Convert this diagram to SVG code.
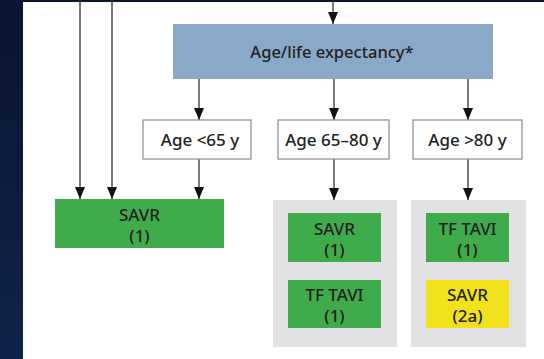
<svg xmlns="http://www.w3.org/2000/svg" width="544" height="359" viewBox="0 0 544 359">
<defs>
<linearGradient id="bg" x1="0" y1="0" x2="0" y2="1">
<stop offset="0" stop-color="#0a1631"/>
<stop offset="1" stop-color="#0f2249"/>
</linearGradient>
<marker id="ah" viewBox="0 0 12 10" markerWidth="12" markerHeight="10" refX="12" refY="5" orient="auto" markerUnits="userSpaceOnUse">
<path d="M0,0 L12,5 L0,10 Z" fill="#111"/>
</marker>
</defs>
<style>
.t{font-family:"Noto Sans","Liberation Sans",sans-serif;fill:#222;text-anchor:middle;font-weight:500;}
.c{stroke:#333;stroke-width:1.3;fill:none;marker-end:url(#ah);}
.age{fill:#fff;stroke:#8a8a8a;stroke-width:1.2;}
.g{fill:#3fab4a;}
.y{fill:#f1e21c;}
.p{fill:#e2e2e4;}
</style>
<rect x="0" y="0" width="544" height="359" fill="#ffffff"/>
<rect x="0" y="0" width="23" height="359" fill="url(#bg)"/>
<rect x="0" y="0" width="544" height="2" fill="#0a1631"/>

<g id="connectors">
<line class="c" x1="333" y1="0" x2="333" y2="24"/>
<line class="c" x1="80" y1="0" x2="80" y2="199"/>
<line class="c" x1="112" y1="0" x2="112" y2="199"/>
<line class="c" x1="199" y1="79" x2="199" y2="120"/>
<line class="c" x1="334" y1="79" x2="334" y2="120"/>
<line class="c" x1="468" y1="79" x2="468" y2="120"/>
<line class="c" x1="199" y1="159" x2="199" y2="199"/>
<line class="c" x1="334" y1="159" x2="334" y2="200"/>
<line class="c" x1="468" y1="159" x2="468" y2="200"/>
</g>

<g id="age-life">
<rect x="173" y="24" width="320" height="55" fill="#8aa8c8"/>
<text class="t" x="332" y="58" font-size="16.5">Age/life expectancy*</text>
</g>

<g id="age-lt65">
<rect class="age" x="143" y="120" width="108" height="39"/>
<text class="t" x="200" y="146" font-size="17">Age &lt;65 y</text>
</g>
<g id="age-65-80">
<rect class="age" x="278" y="120" width="111" height="39"/>
<text class="t" x="333.5" y="146" font-size="17">Age 65–80 y</text>
</g>
<g id="age-gt80">
<rect class="age" x="413" y="120" width="109" height="39"/>
<text class="t" x="467.5" y="146" font-size="17">Age &gt;80 y</text>
</g>

<g id="savr-left">
<rect class="g" x="55" y="199" width="169" height="49"/>
<text class="t" font-size="17"><tspan x="139.5" y="221">SAVR</tspan><tspan x="139.5" y="242">(1)</tspan></text>
</g>

<g id="panel-65-80">
<rect class="p" x="273" y="200" width="124" height="147"/>
<g id="savr-mid">
<rect class="g" x="288" y="213" width="93" height="49"/>
<text class="t" font-size="17"><tspan x="334.5" y="235">SAVR</tspan><tspan x="334.5" y="256">(1)</tspan></text>
</g>
<g id="tavi-mid">
<rect class="g" x="288" y="280" width="93" height="48"/>
<text class="t" font-size="17"><tspan x="334.5" y="301">TF TAVI</tspan><tspan x="334.5" y="322">(1)</tspan></text>
</g>
</g>

<g id="panel-gt80">
<rect class="p" x="411" y="200" width="115" height="147"/>
<g id="tavi-right">
<rect class="g" x="426" y="213" width="83" height="49"/>
<text class="t" font-size="17"><tspan x="467.5" y="235">TF TAVI</tspan><tspan x="467.5" y="256">(1)</tspan></text>
</g>
<g id="savr-right">
<rect class="y" x="426" y="280" width="83" height="48"/>
<text class="t" font-size="17"><tspan x="467.5" y="301">SAVR</tspan><tspan x="467.5" y="322">(2a)</tspan></text>
</g>
</g>
</svg>
